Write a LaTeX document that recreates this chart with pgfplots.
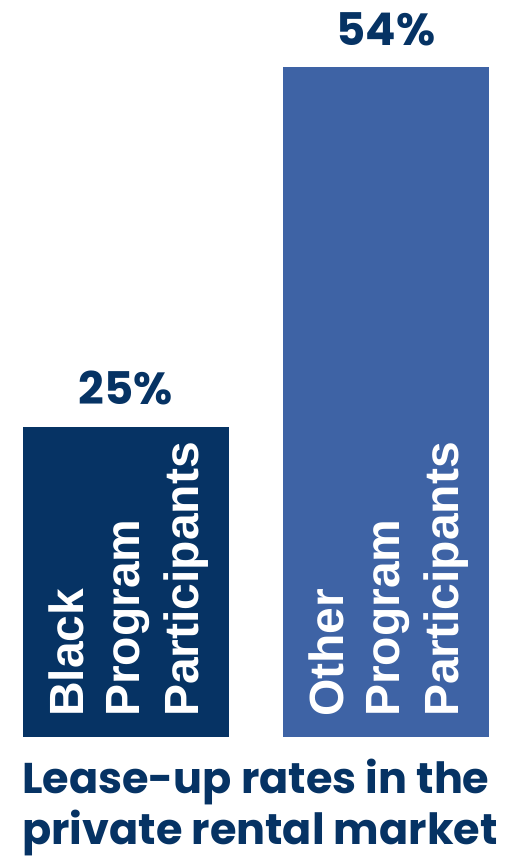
\documentclass[border=0pt]{standalone}
\usepackage{fontspec}
\usepackage{pgfplots}
\pgfplotsset{compat=1.18}
\newfontfamily\arialbold{Liberation Sans Bold}
\newfontfamily\gothicfam{Poppins}
\newcommand{\gothic}{\gothicfam\bfseries}
\definecolor{navy}{RGB}{6,51,100}
\definecolor{midblue}{RGB}{62,99,165}
\begin{document}
\begin{tikzpicture}[x=1pt,y=1pt]
\useasboundingbox (0,0) rectangle (516,860);
\begin{axis}[
  at={(0pt,123pt)}, anchor=south west,
  scale only axis, width=516pt, height=682pt,
  xmin=-0.4846, xmax=1.5, ymin=0, ymax=55,
  hide axis, clip=false,
  ybar, bar width=206pt, bar shift=0pt,
  nodes near coords={\gothic\fontsize{45}{45}\selectfont\pgfmathprintnumber[assume math mode=true,fixed,precision=0]{\pgfplotspointmeta}\%},
  nodes near coords style={anchor=base, yshift=22pt, inner sep=0pt, text=navy},
]
\addplot[fill=navy, draw=none] coordinates {(0,25)};
\addplot[fill=midblue, draw=none] coordinates {(1,54)};
\end{axis}
\begin{scope}[every node/.style={rotate=90, anchor=base west, inner sep=0pt, text=white, font=\arialbold\fontsize{48}{48}\selectfont}]
\node at (83,143) {Black};
\node at (139,143) {Program};
\node at (198,143) {Participants};
\node at (343,143) {Other};
\node at (399,143) {Program};
\node at (458,143) {Participants};
\end{scope}
\begin{scope}[every node/.style={anchor=base west, inner sep=0pt, text=navy, font=\gothic\fontsize{43}{44}\selectfont}]
\node at (22,66) {Lease-up rates in the};
\node at (22,16) {private rental market};
\end{scope}
\end{tikzpicture}
\end{document}
